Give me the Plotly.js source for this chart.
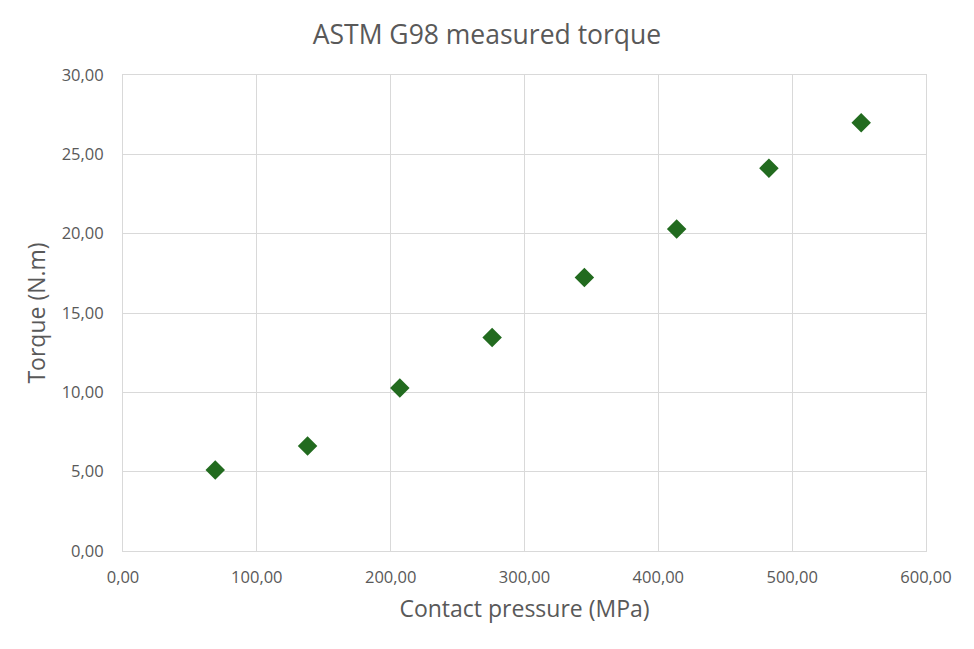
<!DOCTYPE html>
<html>
<head>
<meta charset="utf-8">
<script src="https://cdn.plot.ly/plotly-3.0.1.min.js"></script>
<style>
  html, body { margin: 0; padding: 0; background: #fff; }
  #chart { width: 974px; height: 649px; }
</style>
</head>
<body>
<div id="chart"></div>
<script>
// contact pressure (MPa) and measured torque (N.m)
const pressure = [68.95, 137.9, 206.84, 275.79, 344.74, 413.69, 482.63, 551.58];
const torque = [5.11, 6.62, 10.27, 13.45, 17.24, 20.29, 24.13, 26.99];

const grey = '#595959';
const gridCol = '#d9d9d9';

var data = [{
    x: pressure,
    y: torque,
    type: 'scatter',
    mode: 'markers',
    marker: { symbol: 'diamond', size: 15, color: '#226b1f' },
    hoverinfo: 'x+y'
}];

var layout = {
    width: 974,
    height: 649,
    paper_bgcolor: '#fff',
    plot_bgcolor: '#fff',
    separators: ',.',
    font: { family: 'Open Sans, sans-serif', color: grey },
    margin: { l: 123, r: 48, t: 75, b: 98 },
    showlegend: false,
    title: {
        text: 'ASTM G98 measured torque',
        font: { size: 26.5, color: grey },
        x: 0.5, xanchor: 'center',
        y: 0.946, yanchor: 'middle'
    },
    xaxis: {
        range: [0, 600],
        dtick: 100,
        tickformat: '.2f',
        showgrid: true,
        gridcolor: gridCol,
        zeroline: false,
        showline: true,
        linecolor: gridCol,
        linewidth: 1,
        mirror: true,
        ticks: '',
        ticklabelstandoff: 11,
        tickfont: { size: 16.5, color: grey },
        title: { text: 'Contact pressure (MPa)', font: { size: 23, color: grey }, standoff: 14 }
    },
    yaxis: {
        range: [0, 30],
        dtick: 5,
        tickformat: '.2f',
        showgrid: true,
        gridcolor: gridCol,
        zeroline: false,
        showline: true,
        linecolor: gridCol,
        linewidth: 1,
        mirror: true,
        ticks: '',
        ticklabelstandoff: 15,
        tickfont: { size: 16.5, color: grey },
        title: { text: 'Torque (N.m)', font: { size: 23, color: grey }, standoff: 9 }
    }
};

Plotly.newPlot('chart', data, layout, { displayModeBar: false, staticPlot: true });
</script>
</body>
</html>
